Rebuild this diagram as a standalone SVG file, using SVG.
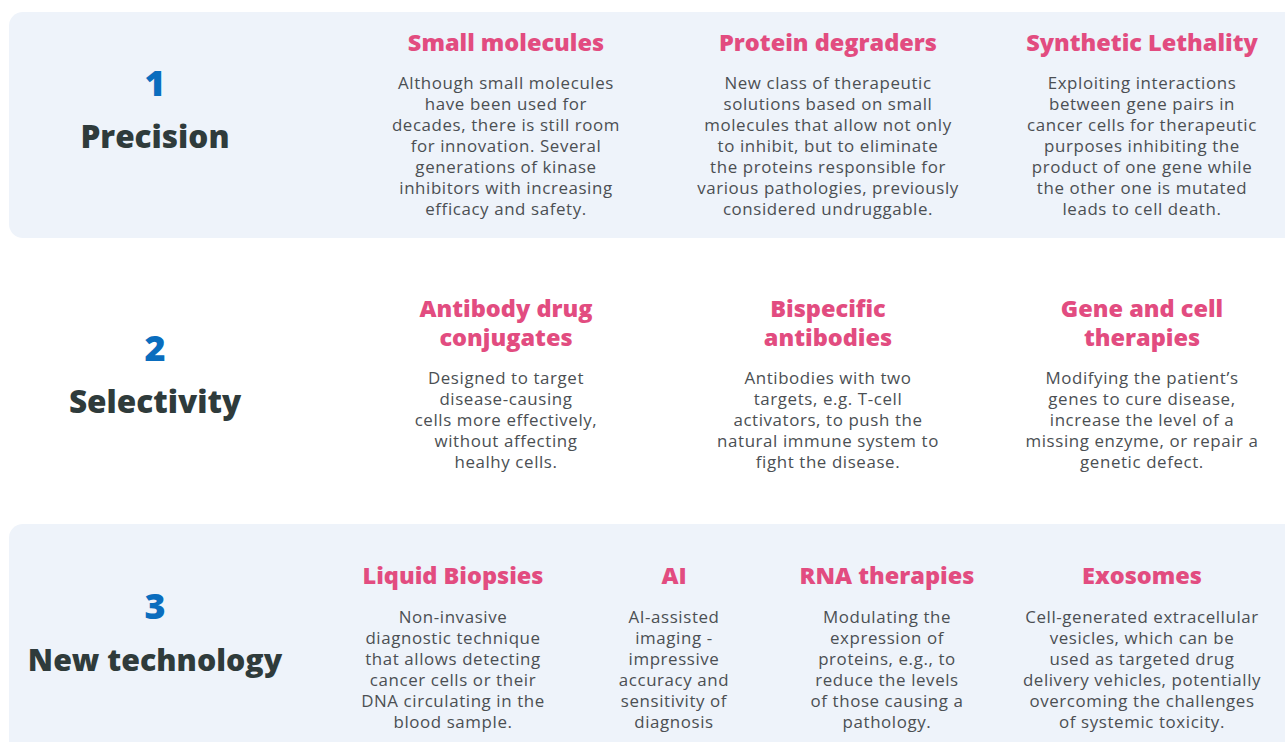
<svg xmlns="http://www.w3.org/2000/svg" width="1285" height="742" viewBox="0 0 1285 742">
<style>
.panel{fill:#EEF3FA}
.num{font-family:"Open Sans","Noto Sans",sans-serif;font-weight:800;font-size:36px;fill:#0A6DBE;text-anchor:middle}
.cat{font-family:"Open Sans","Noto Sans",sans-serif;font-weight:800;font-size:31.5px;fill:#2F3B3B;text-anchor:middle}
.hd{font-family:"Open Sans","Noto Sans",sans-serif;font-weight:800;font-size:23.5px;fill:#E24C80;text-anchor:middle}
.bd{font-family:"Open Sans","Noto Sans",sans-serif;font-size:16.9px;fill:#4B4F53;text-anchor:middle;letter-spacing:0.6px}
</style>
<rect x="0" y="0" width="1285" height="742" fill="#FFFFFF"/>
<g id="panels">
<rect class="panel" x="9" y="12" width="1290" height="226" rx="14"/>
<rect class="panel" x="9" y="524" width="1290" height="240" rx="14"/>
</g>
<g id="connectors"></g>
<g id="row1-label">
<text class="num" x="155" y="96">1</text>
<text class="cat" x="155" y="148">Precision</text>
</g>
<g id="row2-label">
<text class="num" x="155" y="361">2</text>
<text class="cat" x="155" y="413">Selectivity</text>
</g>
<g id="row3-label">
<text class="num" x="155" y="619">3</text>
<text class="cat" x="155" y="671" style="font-size:30.3px">New technology</text>
</g>
<g id="small-molecules">
<text class="hd" x="506" y="51">Small molecules</text>
<text class="bd" x="506"><tspan x="506" y="89">Although small molecules</tspan><tspan x="506" y="110">have been used for</tspan><tspan x="506" y="131">decades, there is still room</tspan><tspan x="506" y="152">for innovation. Several</tspan><tspan x="506" y="173">generations of kinase</tspan><tspan x="506" y="194">inhibitors with increasing</tspan><tspan x="506" y="215">efficacy and safety.</tspan></text>
</g>
<g id="protein-degraders">
<text class="hd" x="828" y="51">Protein degraders</text>
<text class="bd" x="828"><tspan x="828" y="89">New class of therapeutic</tspan><tspan x="828" y="110">solutions based on small</tspan><tspan x="828" y="131">molecules that allow not only</tspan><tspan x="828" y="152">to inhibit, but to eliminate</tspan><tspan x="828" y="173">the proteins responsible for</tspan><tspan x="828" y="194">various pathologies, previously</tspan><tspan x="828" y="215">considered undruggable.</tspan></text>
</g>
<g id="synthetic-lethality">
<text class="hd" x="1142" y="51">Synthetic Lethality</text>
<text class="bd" x="1142"><tspan x="1142" y="89">Exploiting interactions</tspan><tspan x="1142" y="110">between gene pairs in</tspan><tspan x="1142" y="131">cancer cells for therapeutic</tspan><tspan x="1142" y="152">purposes inhibiting the</tspan><tspan x="1142" y="173">product of one gene while</tspan><tspan x="1142" y="194">the other one is mutated</tspan><tspan x="1142" y="215">leads to cell death.</tspan></text>
</g>
<g id="antibody-drug-conjugates">
<text class="hd" x="506"><tspan x="506" y="317">Antibody drug</tspan><tspan x="506" y="346">conjugates</tspan></text>
<text class="bd" x="506"><tspan x="506" y="384">Designed to target</tspan><tspan x="506" y="405">disease-causing</tspan><tspan x="506" y="426">cells more effectively,</tspan><tspan x="506" y="447">without affecting</tspan><tspan x="506" y="468">healhy cells.</tspan></text>
</g>
<g id="bispecific-antibodies">
<text class="hd" x="828"><tspan x="828" y="317">Bispecific</tspan><tspan x="828" y="346">antibodies</tspan></text>
<text class="bd" x="828"><tspan x="828" y="384">Antibodies with two</tspan><tspan x="828" y="405">targets, e.g. T-cell</tspan><tspan x="828" y="426">activators, to push the</tspan><tspan x="828" y="447">natural immune system to</tspan><tspan x="828" y="468">fight the disease.</tspan></text>
</g>
<g id="gene-cell-therapies">
<text class="hd" x="1142"><tspan x="1142" y="317">Gene and cell</tspan><tspan x="1142" y="346">therapies</tspan></text>
<text class="bd" x="1142"><tspan x="1142" y="384">Modifying the patient’s</tspan><tspan x="1142" y="405">genes to cure disease,</tspan><tspan x="1142" y="426">increase the level of a</tspan><tspan x="1142" y="447">missing enzyme, or repair a</tspan><tspan x="1142" y="468">genetic defect.</tspan></text>
</g>
<g id="liquid-biopsies">
<text class="hd" x="453" y="584">Liquid Biopsies</text>
<text class="bd" x="453"><tspan x="453" y="623">Non-invasive</tspan><tspan x="453" y="644">diagnostic technique</tspan><tspan x="453" y="665">that allows detecting</tspan><tspan x="453" y="686">cancer cells or their</tspan><tspan x="453" y="707">DNA circulating in the</tspan><tspan x="453" y="728">blood sample.</tspan></text>
</g>
<g id="ai">
<text class="hd" x="674" y="584">AI</text>
<text class="bd" x="674"><tspan x="674" y="623">AI-assisted</tspan><tspan x="674" y="644">imaging -</tspan><tspan x="674" y="665">impressive</tspan><tspan x="674" y="686">accuracy and</tspan><tspan x="674" y="707">sensitivity of</tspan><tspan x="674" y="728">diagnosis</tspan></text>
</g>
<g id="rna-therapies">
<text class="hd" x="887" y="584">RNA therapies</text>
<text class="bd" x="887"><tspan x="887" y="623">Modulating the</tspan><tspan x="887" y="644">expression of</tspan><tspan x="887" y="665">proteins, e.g., to</tspan><tspan x="887" y="686">reduce the levels</tspan><tspan x="887" y="707">of those causing a</tspan><tspan x="887" y="728">pathology.</tspan></text>
</g>
<g id="exosomes">
<text class="hd" x="1142" y="584">Exosomes</text>
<text class="bd" x="1142"><tspan x="1142" y="623">Cell-generated extracellular</tspan><tspan x="1142" y="644">vesicles, which can be</tspan><tspan x="1142" y="665">used as targeted drug</tspan><tspan x="1142" y="686">delivery vehicles, potentially</tspan><tspan x="1142" y="707">overcoming the challenges</tspan><tspan x="1142" y="728">of systemic toxicity.</tspan></text>
</g>
</svg>
